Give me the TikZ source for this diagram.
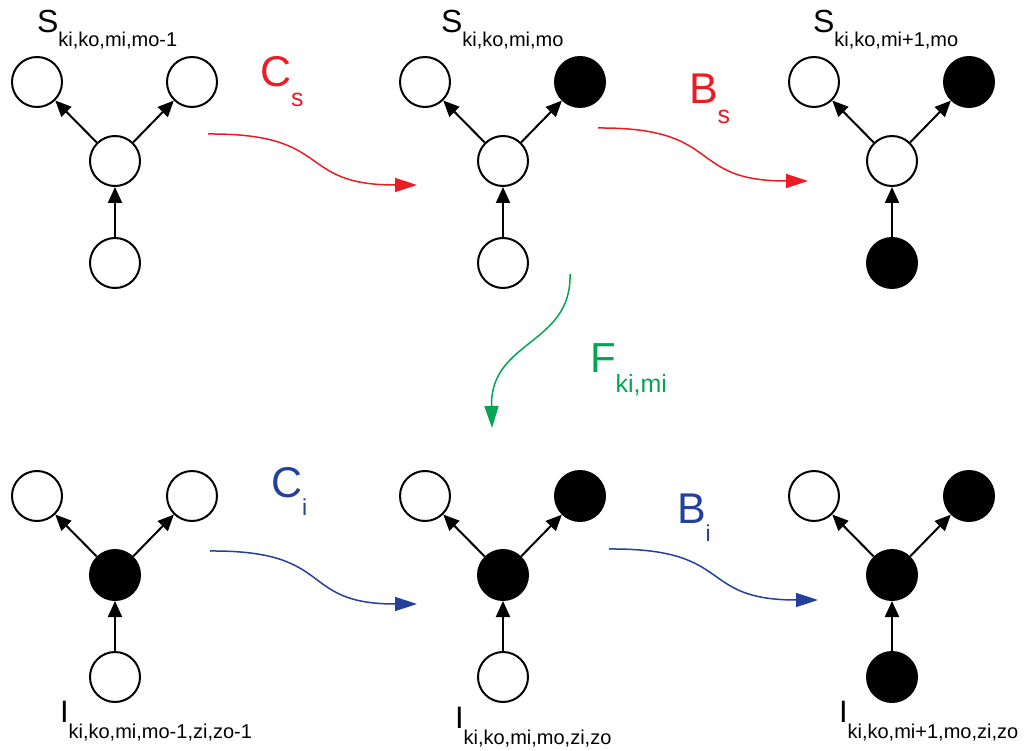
\documentclass[tikz,border=0pt]{standalone}
\usepackage{fontspec}
\setmainfont{Liberation Sans}
\usetikzlibrary{arrows.meta}

\definecolor{movered}{RGB}{237,28,36}
\definecolor{moveblue}{RGB}{35,64,154}
\definecolor{movegreen}{RGB}{0,166,81}

\newcommand{\statelbl}[5]{{\fontsize{#3}{#3}\selectfont #1}\raisebox{-#5pt}{\fontsize{#4}{#4}\selectfont #2}}

\tikzset{
  vtx/.style={circle, draw=black, line width=2pt, minimum size=50pt, inner sep=0pt, fill=white},
  vtxon/.style={vtx, fill=black},
  treeedge/.style={-{Triangle[length=16pt,width=14pt]}, line width=2pt},
  movearrow/.style={-{Triangle[length=22pt,width=14pt]}, line width=1.5pt},
  lbl/.style={anchor=base west, inner sep=0pt, outer sep=0pt}
}

\begin{document}
\begin{tikzpicture}[x=1pt,y=-1pt]
\useasboundingbox (0,0) rectangle (1025,751);

% Graph: S top left
\node [vtx]   (s1-l) at (37,82)  {};
\node [vtx]   (s1-r) at (192,82) {};
\node [vtx]   (s1-c) at (115,161) {};
\node [vtx]   (s1-b) at (115,263) {};
% Graph: S top middle
\node [vtx]   (s2-l) at (425,82)  {};
\node [vtxon] (s2-r) at (580,82)  {};
\node [vtx]   (s2-c) at (503,161) {};
\node [vtx]   (s2-b) at (503,263) {};
% Graph: S top right
\node [vtx]   (s3-l) at (814,82)  {};
\node [vtxon] (s3-r) at (969,82)  {};
\node [vtx]   (s3-c) at (892,161) {};
\node [vtxon] (s3-b) at (892,263) {};
% Graph: I bottom left
\node [vtx]   (i1-l) at (37,496)  {};
\node [vtx]   (i1-r) at (192,496) {};
\node [vtxon] (i1-c) at (115,575) {};
\node [vtx]   (i1-b) at (115,677) {};
% Graph: I bottom middle
\node [vtx]   (i2-l) at (425,496) {};
\node [vtxon] (i2-r) at (580,496) {};
\node [vtxon] (i2-c) at (503,575) {};
\node [vtx]   (i2-b) at (503,677) {};
% Graph: I bottom right
\node [vtx]   (i3-l) at (814,496) {};
\node [vtxon] (i3-r) at (969,496) {};
\node [vtxon] (i3-c) at (892,575) {};
\node [vtxon] (i3-b) at (892,677) {};

% Tree edges
\foreach \g in {s1,s2,s3,i1,i2,i3} {
  \draw [treeedge] (\g-b) -- (\g-c);
  \draw [treeedge] (\g-c) -- (\g-l);
  \draw [treeedge] (\g-c) -- (\g-r);
}

% Graph labels
\node [lbl] (s1-lbl) at (37,33)  {\statelbl{S}{ki,ko,mi,mo-1}{32}{20}{14}};
\node [lbl] (s2-lbl) at (441,33) {\statelbl{S}{ki,ko,mi,mo}{32}{20}{14}};
\node [lbl] (s3-lbl) at (813,33) {\statelbl{S}{ki,ko,mi+1,mo}{32}{20}{14}};
\node [lbl] (i1-lbl) at (60,722)  {\statelbl{I}{ki,ko,mi,mo-1,zi,zo-1}{31}{20}{16}};
\node [lbl] (i2-lbl) at (455,728) {\statelbl{I}{ki,ko,mi,mo,zi,zo}{31}{20}{16}};
\node [lbl] (i3-lbl) at (839,722) {\statelbl{I}{ki,ko,mi+1,mo,zi,zo}{31}{20}{16}};

% Move arrows
\coordinate (cs-from) at (208,134);
\coordinate (cs-to)   at (417,185);
\coordinate (bs-from) at (598,128);
\coordinate (bs-to)   at (808,181);
\coordinate (ci-from) at (210,551);
\coordinate (ci-to)   at (417,604);
\coordinate (bi-from) at (609,549);
\coordinate (bi-to)   at (818,600);
\coordinate (f-from)  at (570,274);
\coordinate (f-to)    at (492,428);

\draw [movearrow, movered]   (cs-from) .. controls (335,133) and (295,185) .. (cs-to);
\draw [movearrow, movered]   (bs-from) .. controls (725,127) and (685,181) .. (bs-to);
\draw [movearrow, moveblue]  (ci-from) .. controls (337,550) and (297,604) .. (ci-to);
\draw [movearrow, moveblue]  (bi-from) .. controls (736,548) and (696,600) .. (bi-to);
\draw [movearrow, movegreen] (f-from) .. controls (572,345) and (490,340) .. (f-to);

% Move labels
\node [lbl, text=movered]   (cs-lbl) at (260,87)  {\statelbl{C}{s}{43}{25}{20}};
\node [lbl, text=movered]   (bs-lbl) at (689,104) {\statelbl{B}{s}{43}{25}{20}};
\node [lbl, text=moveblue]  (ci-lbl) at (271,497) {\statelbl{C}{i}{43}{23}{18}};
\node [lbl, text=moveblue]  (bi-lbl) at (677,523) {\statelbl{B}{i}{43}{23}{18}};
\node [lbl, text=movegreen] (f-lbl)  at (590,372) {\statelbl{F}{ki,mi}{42}{25}{20}};
\end{tikzpicture}
\end{document}
